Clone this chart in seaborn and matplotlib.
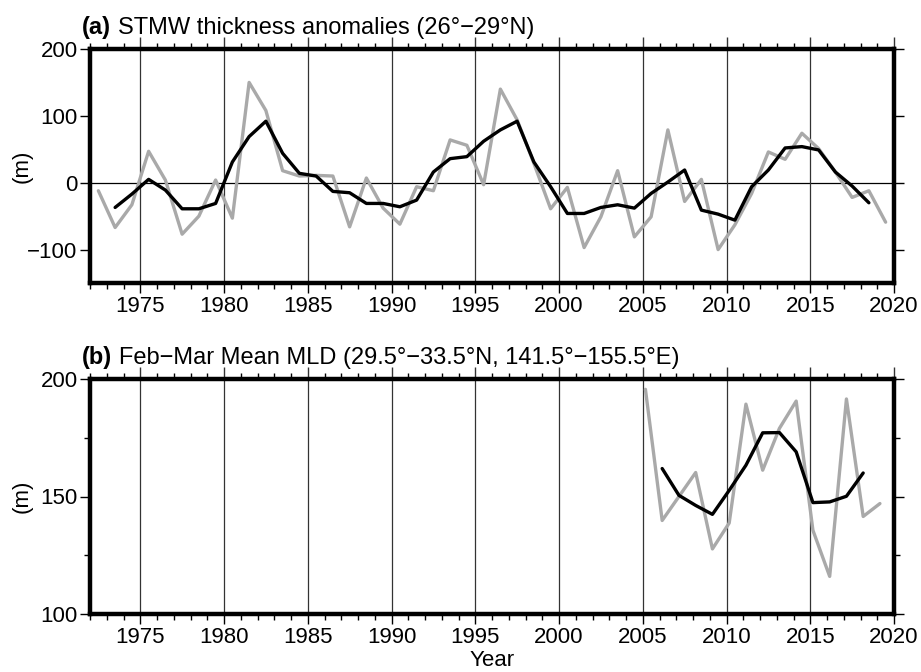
import numpy as np
import pandas as pd
import matplotlib
matplotlib.use("Agg")
import matplotlib.pyplot as plt
import matplotlib.transforms as mt
import seaborn as sns
from matplotlib.ticker import MultipleLocator

# ---------------- data ----------------
years_a = list(range(1972, 2020))
stmw_annual = [-12, -67, -33, 47, 4, -77, -50, 4, -53, 150,
               108, 18, 10, 11, 10, -66, 7, -38, -62, -6,
               -12, 64, 56, -3, 140, 94, 29, -39, -7, -97,
               -51, 18, -81, -51, 79, -28, 5, -100, -63, -16,
               46, 35, 74, 51, 16, -22, -12, -59]
years_a_smooth = list(range(1973, 2019))
stmw_smooth = [-37, -17, 5, -11, -39, -39, -31, 31, 69, 92,
               44, 14, 10, -13, -15, -31, -31, -36, -26, 16,
               36, 39, 62, 79, 92, 31, -6, -46, -46, -37,
               -33, -38, -16, 1, 19, -41, -47, -56, -6, 19,
               52, 54, 49, 16, -5, -30]

years_b = list(range(2005, 2020))
mld_annual = [195.6, 139.8, 150, 160.2, 127.7, 138.7, 189.3, 161.2,
              179, 190.6, 135.6, 116, 191.5, 141.5, 147]
years_b_smooth = list(range(2006, 2019))
mld_smooth = [161.9, 150.5, 146.2, 142.4, 152.6, 163.3, 177.1, 177.2,
              169, 147.4, 147.7, 150.1, 160]

title_a = ("(a)", "STMW thickness anomalies (26°\u221229°N)")
title_b = ("(b)", "Feb\u2212Mar Mean MLD (29.5°\u221233.5°N, 141.5°\u2212155.5°E)")

# ---------------- style ----------------
sns.set_style("ticks")
plt.rcParams['font.family'] = ['Liberation Sans', 'DejaVu Sans']
plt.rcParams['axes.unicode_minus'] = True
for k in ["text.color", "axes.labelcolor", "xtick.color", "ytick.color",
          "xtick.labelcolor", "ytick.labelcolor"]:
    plt.rcParams[k] = "black"

GREY = "#a9a9a9"
FS_TICK = 16
FS_TEXT = 17
fig = plt.figure(figsize=(9.21, 6.72), dpi=100)
W, H = 921, 672
def ax_rect(l, t, r, b):
    return [l / W, 1 - b / H, (r - l) / W, (b - t) / H]

ax_a = fig.add_axes(ax_rect(90, 49, 894, 283))
ax_b = fig.add_axes(ax_rect(90, 379, 894, 614))

df_a1 = pd.DataFrame({"x": np.array(years_a) + 0.5, "y": stmw_annual})
df_a2 = pd.DataFrame({"x": np.array(years_a_smooth) + 0.5, "y": stmw_smooth})
df_b1 = pd.DataFrame({"x": np.array(years_b) + 0.16, "y": mld_annual})
df_b2 = pd.DataFrame({"x": np.array(years_b_smooth) + 0.16, "y": mld_smooth})

def style_axes(ax, ylim, yticks, yminor=None):
    ax.set_xlim(1972, 2020)
    ax.set_ylim(*ylim)
    ax.xaxis.set_major_locator(MultipleLocator(5))
    ax.xaxis.set_minor_locator(MultipleLocator(1))
    ax.set_yticks(yticks)
    if yminor is not None:
        ax.yaxis.set_minor_locator(MultipleLocator(yminor))
    for x in range(1975, 2020, 5):
        ax.axvline(x, color="#333333", lw=0.9, zorder=1)
    for s in ax.spines.values():
        s.set_visible(True)
        s.set_linewidth(3.2)
        s.set_color("black")
        s.set_zorder(5)
    ax.tick_params(axis="x", which="major", direction="out", length=7.5,
                   width=1.0, labelsize=FS_TICK, pad=2, top=False, bottom=True)
    ax.tick_params(axis="x", which="minor", direction="out", length=4,
                   width=1.0, top=False, bottom=True)
    ax.tick_params(axis="y", which="major", direction="out", length=7.5,
                   width=1.0, labelsize=FS_TICK, pad=1.5, left=True, right=True)
    ax.tick_params(axis="y", which="minor", direction="out", length=4,
                   width=1.0, left=True, right=False)
    sec = ax.secondary_xaxis("top")
    sec.xaxis.set_major_locator(MultipleLocator(5))
    sec.xaxis.set_minor_locator(MultipleLocator(1))
    sec.tick_params(axis="x", which="major", direction="out", length=9,
                    width=1.0, labeltop=False, color="#333333")
    sec.tick_params(axis="x", which="minor", direction="out", length=4.5,
                    width=1.0)
    sec.spines["top"].set_visible(False)
    ax.set_xlabel("")
    ax.set_ylabel("(m)", fontsize=FS_TEXT - 1)
    ax.yaxis.set_label_coords(-0.085, 0.5)
    ax.yaxis.label.set_va("center")

def add_title(ax, parts):
    off = mt.offset_copy(ax.transAxes, fig=fig, x=-8, y=15, units="dots")
    t1 = ax.text(0.0, 1.0, parts[0], transform=off, fontsize=FS_TEXT,
                 fontweight="bold", ha="left", va="baseline")
    ax.annotate(parts[1], xy=(1, 0), xycoords=t1, xytext=(5, 0),
                textcoords="offset points", fontsize=FS_TEXT, ha="left",
                va="bottom")

# panel (a)
sns.lineplot(data=df_a1, x="x", y="y", ax=ax_a, color=GREY, lw=2.4, zorder=3)
sns.lineplot(data=df_a2, x="x", y="y", ax=ax_a, color="black", lw=2.4, zorder=4)
ax_a.axhline(0, color="black", lw=0.9, zorder=1)
style_axes(ax_a, (-150, 200), [-100, 0, 100, 200])
add_title(ax_a, title_a)

# panel (b)
sns.lineplot(data=df_b1, x="x", y="y", ax=ax_b, color=GREY, lw=2.4, zorder=3)
sns.lineplot(data=df_b2, x="x", y="y", ax=ax_b, color="black", lw=2.4, zorder=4)
style_axes(ax_b, (100, 200), [100, 150, 200], yminor=25)
ax_b.tick_params(axis="y", which="minor", right=True)
add_title(ax_b, title_b)
ax_b.set_xlabel("Year", fontsize=FS_TEXT - 1)
ax_b.xaxis.set_label_coords(0.5, -0.196)
ax_b.xaxis.label.set_va("center")

fig.savefig("out.png", dpi=100)
